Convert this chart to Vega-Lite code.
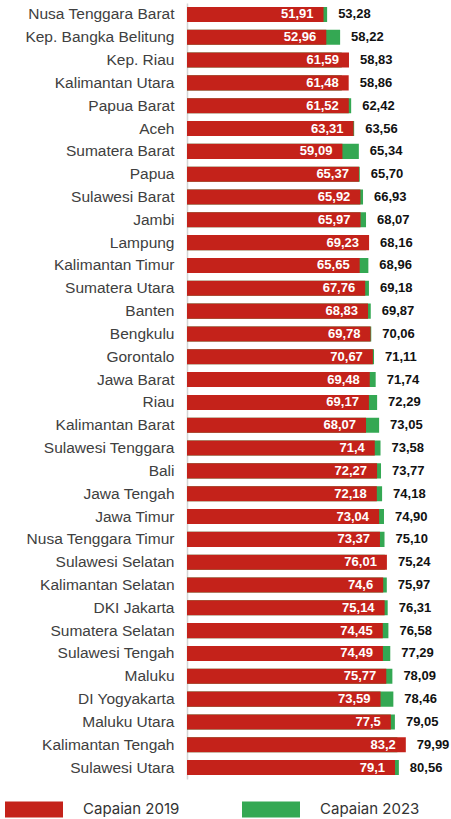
{
  "$schema": "https://vega.github.io/schema/vega-lite/v6.json",
  "width": 263,
  "height": 776,
  "autosize": {"type": "none"},
  "padding": {"left": 187, "top": 3, "right": 1, "bottom": 40},
  "config": {
    "view": {"stroke": null},
    "locale": {"number": {"decimal": ",", "thousands": ".", "grouping": [3], "currency": ["", ""]}}
  },
  "data": {
    "values": [
      {"prov": "Nusa Tenggara Barat", "c2019": 51.91, "c2023": 53.28},
      {"prov": "Kep. Bangka Belitung", "c2019": 52.96, "c2023": 58.22},
      {"prov": "Kep. Riau", "c2019": 61.59, "c2023": 58.83},
      {"prov": "Kalimantan Utara", "c2019": 61.48, "c2023": 58.86},
      {"prov": "Papua Barat", "c2019": 61.52, "c2023": 62.42},
      {"prov": "Aceh", "c2019": 63.31, "c2023": 63.56},
      {"prov": "Sumatera Barat", "c2019": 59.09, "c2023": 65.34},
      {"prov": "Papua", "c2019": 65.37, "c2023": 65.70},
      {"prov": "Sulawesi Barat", "c2019": 65.92, "c2023": 66.93},
      {"prov": "Jambi", "c2019": 65.97, "c2023": 68.07},
      {"prov": "Lampung", "c2019": 69.23, "c2023": 68.16},
      {"prov": "Kalimantan Timur", "c2019": 65.65, "c2023": 68.96},
      {"prov": "Sumatera Utara", "c2019": 67.76, "c2023": 69.18},
      {"prov": "Banten", "c2019": 68.83, "c2023": 69.87},
      {"prov": "Bengkulu", "c2019": 69.78, "c2023": 70.06},
      {"prov": "Gorontalo", "c2019": 70.67, "c2023": 71.11},
      {"prov": "Jawa Barat", "c2019": 69.48, "c2023": 71.74},
      {"prov": "Riau", "c2019": 69.17, "c2023": 72.29},
      {"prov": "Kalimantan Barat", "c2019": 68.07, "c2023": 73.05},
      {"prov": "Sulawesi Tenggara", "c2019": 71.4, "c2023": 73.58},
      {"prov": "Bali", "c2019": 72.27, "c2023": 73.77},
      {"prov": "Jawa Tengah", "c2019": 72.18, "c2023": 74.18},
      {"prov": "Jawa Timur", "c2019": 73.04, "c2023": 74.90},
      {"prov": "Nusa Tenggara Timur", "c2019": 73.37, "c2023": 75.10},
      {"prov": "Sulawesi Selatan", "c2019": 76.01, "c2023": 75.24},
      {"prov": "Kalimantan Selatan", "c2019": 74.6, "c2023": 75.97},
      {"prov": "DKI Jakarta", "c2019": 75.14, "c2023": 76.31},
      {"prov": "Sumatera Selatan", "c2019": 74.45, "c2023": 76.58},
      {"prov": "Sulawesi Tengah", "c2019": 74.49, "c2023": 77.29},
      {"prov": "Maluku", "c2019": 75.77, "c2023": 78.09},
      {"prov": "DI Yogyakarta", "c2019": 73.59, "c2023": 78.46},
      {"prov": "Maluku Utara", "c2019": 77.5, "c2023": 79.05},
      {"prov": "Kalimantan Tengah", "c2019": 83.2, "c2023": 79.99},
      {"prov": "Sulawesi Utara", "c2019": 79.1, "c2023": 80.56}
    ]
  },
  "encoding": {
    "y": {
      "field": "prov",
      "type": "nominal",
      "sort": null,
      "scale": {"paddingInner": 0.34, "paddingOuter": 0.17},
      "axis": {
        "title": null,
        "ticks": false,
        "labelPadding": 13,
        "labelFont": "Liberation Sans",
        "labelFontSize": 15.5,
        "labelColor": "#404040",
        "labelLimit": 200,
        "domainColor": "#d4d4d4",
        "domainWidth": 1.5
      }
    }
  },
  "layer": [
    {
      "mark": {"type": "bar"},
      "encoding": {
        "x": {"field": "c2023", "type": "quantitative", "scale": {"domain": [0, 100]}, "axis": null},
        "color": {
          "datum": "Capaian 2023",
          "scale": {"domain": ["Capaian 2019", "Capaian 2023"], "range": ["#C4221A", "#34A853"]},
          "legend": {
            "orient": "none",
            "legendX": -182,
            "legendY": 777,
            "direction": "horizontal",
            "title": null,
            "symbolType": "M-1,-0.276H1V0.276H-1Z",
            "symbolSize": 3364,
            "symbolStrokeWidth": 0,
            "symbolOpacity": 1,
            "labelOffset": 20,
            "columnPadding": 62,
            "labelFont": "Inter",
            "labelFontSize": 15,
            "labelColor": "#333333"
          }
        }
      }
    },
    {
      "mark": {"type": "bar"},
      "encoding": {
        "x": {"field": "c2019", "type": "quantitative"},
        "color": {"datum": "Capaian 2019"}
      }
    },
    {
      "mark": {"type": "text", "align": "right", "baseline": "middle", "dx": -10, "font": "Liberation Sans", "fontSize": 13, "fontWeight": "bold", "color": "#ffffff"},
      "encoding": {
        "x": {"field": "c2019", "type": "quantitative"},
        "text": {"field": "c2019", "type": "quantitative", "format": ".2~f"}
      }
    },
    {
      "transform": [
        {"fold": ["c2019", "c2023"], "as": ["k", "v"]},
        {"joinaggregate": [{"op": "max", "field": "v", "as": "xmax"}], "groupby": ["prov"]},
        {"filter": "datum.k == 'c2023'"}
      ],
      "mark": {"type": "text", "align": "left", "baseline": "middle", "dx": 11, "font": "Liberation Sans", "fontSize": 13, "fontWeight": "bold", "color": "#111111"},
      "encoding": {
        "x": {"field": "xmax", "type": "quantitative"},
        "text": {"field": "c2023", "type": "quantitative", "format": ".2f"}
      }
    }
  ]
}
